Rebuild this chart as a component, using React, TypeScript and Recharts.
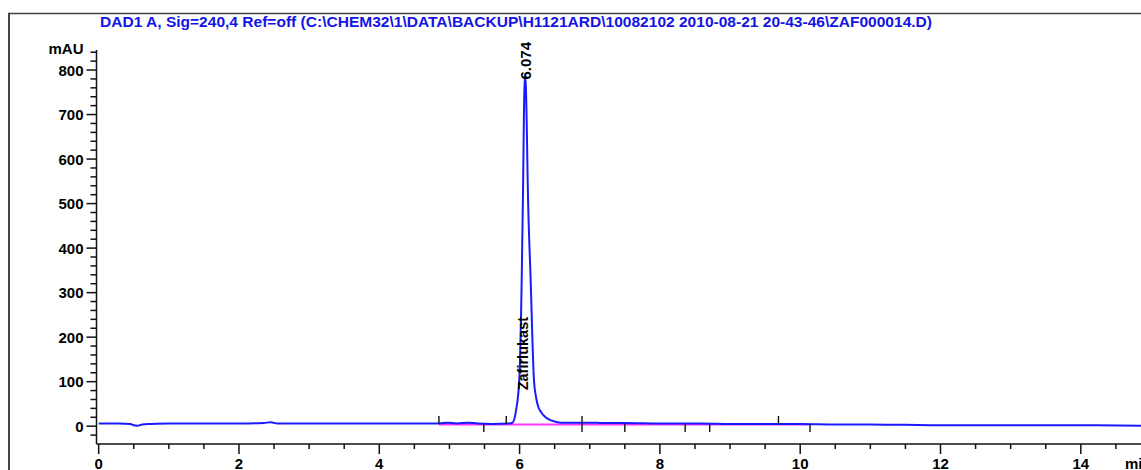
import React from "react";
import { ComposedChart, Line, XAxis, YAxis, Scatter, ReferenceDot } from "recharts";

// DAD1 A signal, retention time (min) vs absorbance (mAU)
const times = [
  0, 0.3, 0.45, 0.5, 0.55, 0.62, 0.75, 1.0, 1.5, 2.0, 2.35, 2.45, 2.55, 3.0, 3.5, 4.0, 4.5,
  4.85, 4.98, 5.1, 5.27, 5.4, 5.6, 5.85, 5.9, 5.95, 5.995, 6.03, 6.05, 6.062, 6.074,
  6.09, 6.105, 6.115, 6.158, 6.205, 6.235, 6.267, 6.3, 6.37, 6.45, 6.59, 6.8, 7.0, 7.2,
  7.5, 8.0, 8.3, 8.6, 9.0, 9.5, 10.0, 10.5, 11.0, 11.5, 12.0, 13.0, 14.0, 14.86,
];
const signal = [
  6, 6, 5, 2, 1, 4, 5, 6, 6, 6, 7, 9, 6, 6, 6, 6, 6,
  6, 8, 6, 8, 6, 5, 6, 8, 36, 103, 328, 540, 700, 790,
  760, 650, 553, 328, 103, 65, 43, 33, 20, 13, 8, 8, 8, 7,
  7, 6, 6, 6, 5, 5, 5, 4, 4, 3, 2, 2, 2, 1,
];

// integration baseline (magenta)
const baseTimes = [4.85, 10.12];
const baseValues = [4, 4];

// integration event markers
const eventTimes = [4.85, 5.49, 5.81, 6.89, 7.5, 8.36, 8.71, 9.69, 10.14];
const eventDirs = ["up", "down", "up", "both", "down", "down", "down", "up", "down"];

const xTicks = [
  0, 0.5, 1, 1.5, 2, 2.5, 3, 3.5, 4, 4.5, 5, 5.5, 6, 6.5, 7, 7.5, 8, 8.5, 9, 9.5, 10, 10.5,
  11, 11.5, 12, 12.5, 13, 13.5, 14, 14.5,
];
const xLabels = [0, 2, 4, 6, 8, 10, 12, 14];
const yTicks = [
  -20, 0, 20, 40, 60, 80, 100, 120, 140, 160, 180, 200, 220, 240, 260, 280, 300, 320, 340,
  360, 380, 400, 420, 440, 460, 480, 500, 520, 540, 560, 580, 600, 620, 640, 660, 680, 700,
  720, 740, 760, 780, 800, 820, 840,
];
const yLabels = [0, 100, 200, 300, 400, 500, 600, 700, 800];

const peakTime = 6.074;
const peakHeight = 790;
const peakLabel = "6.074";
const compoundName = "Zafirlukast";
const compoundTime = 6.05;
const compoundLevel = 163;

const title =
  "DAD1 A, Sig=240,4 Ref=off (C:\\CHEM32\\1\\DATA\\BACKUP\\H1121ARD\\10082102 2010-08-21 20-43-46\\ZAF000014.D)";

const data = times.map((t, i) => ({ t, mau: signal[i] }));
const baseData = baseTimes.map((t, i) => ({ t, mau: baseValues[i] }));
const eventData = eventTimes.map((t, i) => ({ t, mau: 5, dir: eventDirs[i] }));

const font = "'Liberation Sans', Arial, sans-serif";

const YTick = (props: any) => {
  const { x, y, payload } = props;
  const major = yLabels.includes(payload.value);
  return (
    <g>
      <line x1={x - (major ? 10 : 6)} x2={x} y1={y} y2={y} stroke="#111" strokeWidth={1.5} />
      {major && (
        <text x={x - 13} y={y} dy={5.5} textAnchor="end" fontFamily={font} fontWeight="bold" fontSize={15} fill="#000">
          {payload.value}
        </text>
      )}
    </g>
  );
};

const XTick = (props: any) => {
  const { x, y, payload } = props;
  const major = xLabels.includes(payload.value);
  return (
    <g>
      <line x1={x} x2={x} y1={y} y2={y + (major ? 10 : 5)} stroke="#111" strokeWidth={1.5} />
      {major && (
        <text x={x} y={y} dy={24.5} textAnchor="middle" fontFamily={font} fontWeight="bold" fontSize={15} fill="#000">
          {payload.value}
        </text>
      )}
    </g>
  );
};

const EventMark = (props: any) => {
  const { cx, cy, payload } = props;
  const up = payload.dir === "up" || payload.dir === "both";
  const down = payload.dir === "down" || payload.dir === "both";
  return (
    <line
      x1={cx}
      x2={cx}
      y1={cy + (down ? 8 : 0)}
      y2={cy - (up ? 8 : 0)}
      stroke="#111"
      strokeWidth={1.4}
    />
  );
};

const App = () => {
  return (
    <div style={{ position: "relative", width: 1141, height: 470 }}>
      <style>{"body{margin:0;overflow:hidden}"}</style>
      <svg width={1141} height={470} style={{ position: "absolute", left: 0, top: 0 }}>
        <line x1={9} x2={9} y1={13} y2={470} stroke="#444" strokeWidth={2} />
        <line x1={8} x2={1141} y1={13.5} y2={13.5} stroke="#444" strokeWidth={1.5} />
        <text
          x={100}
          y={27}
          textLength={832}
          lengthAdjust="spacingAndGlyphs"
          fontFamily={font}
          fontWeight="bold"
          fontSize={14}
          fill="#1414e6"
        >
          {title}
        </text>
      </svg>
      <div style={{ position: "absolute", left: 0, top: 0 }}>
        <ComposedChart width={1141} height={470} data={data} margin={{ top: 50, right: 0, bottom: 0, left: 0 }}>
          <XAxis
            type="number"
            dataKey="t"
            domain={[-0.031, 14.858]}
            ticks={xTicks}
            tick={<XTick />}
            tickSize={0}
            tickMargin={0}
            height={26}
            interval={0}
            axisLine={{ stroke: "#111", strokeWidth: 1.5 }}
            allowDataOverflow
            label={{
              value: "min",
              content: (p: any) => (
                <text
                  x={p.viewBox.x + p.viewBox.width - 16}
                  y={p.viewBox.y + 24.5}
                  fontFamily={font}
                  fontWeight="bold"
                  fontSize={15}
                  fill="#000"
                >
                  min
                </text>
              ),
            }}
          />
          <YAxis
            type="number"
            domain={[-40, 845]}
            ticks={yTicks}
            tick={<YTick />}
            tickSize={0}
            tickMargin={0}
            width={96.5}
            interval={0}
            axisLine={{ stroke: "#111", strokeWidth: 1.5 }}
            allowDataOverflow
            label={{
              value: "mAU",
              content: (p: any) => (
                <text
                  x={p.viewBox.x + p.viewBox.width - 13}
                  y={p.viewBox.y + 4}
                  textAnchor="end"
                  fontFamily={font}
                  fontWeight="bold"
                  fontSize={15}
                  fill="#000"
                >
                  mAU
                </text>
              ),
            }}
          />
          <Line
            data={baseData}
            dataKey="mau"
            stroke="#ff33ff"
            strokeWidth={2}
            dot={false}
            isAnimationActive={false}
          />
          <Line
            dataKey="mau"
            type="monotone"
            stroke="#1a1aff"
            strokeWidth={2}
            dot={false}
            isAnimationActive={false}
          />
          <Scatter data={eventData} dataKey="mau" shape={<EventMark />} isAnimationActive={false} />
          <ReferenceDot
            x={peakTime}
            y={peakHeight}
            r={0}
            label={{
              value: peakLabel,
              content: (p: any) => {
                const cx = p.viewBox.x + p.viewBox.width / 2 + 6;
                const cy = p.viewBox.y + p.viewBox.height / 2 + 5;
                return (
                  <text
                    x={cx}
                    y={cy}
                    transform={`rotate(-90 ${cx} ${cy})`}
                    fontFamily={font}
                    fontWeight="bold"
                    fontSize={15}
                    fill="#000"
                  >
                    {peakLabel}
                  </text>
                );
              },
            }}
          />
          <ReferenceDot
            x={compoundTime}
            y={compoundLevel}
            r={0}
            label={{
              value: compoundName,
              content: (p: any) => {
                const cx = p.viewBox.x + p.viewBox.width / 2 + 5;
                const cy = p.viewBox.y + p.viewBox.height / 2;
                return (
                  <text
                    x={cx}
                    y={cy}
                    transform={`rotate(-90 ${cx} ${cy})`}
                    textAnchor="middle"
                    fontFamily={font}
                    fontWeight="bold"
                    fontSize={14.5}
                    fill="#000"
                  >
                    {compoundName}
                  </text>
                );
              },
            }}
          />
        </ComposedChart>
      </div>
    </div>
  );
};

export default App;
